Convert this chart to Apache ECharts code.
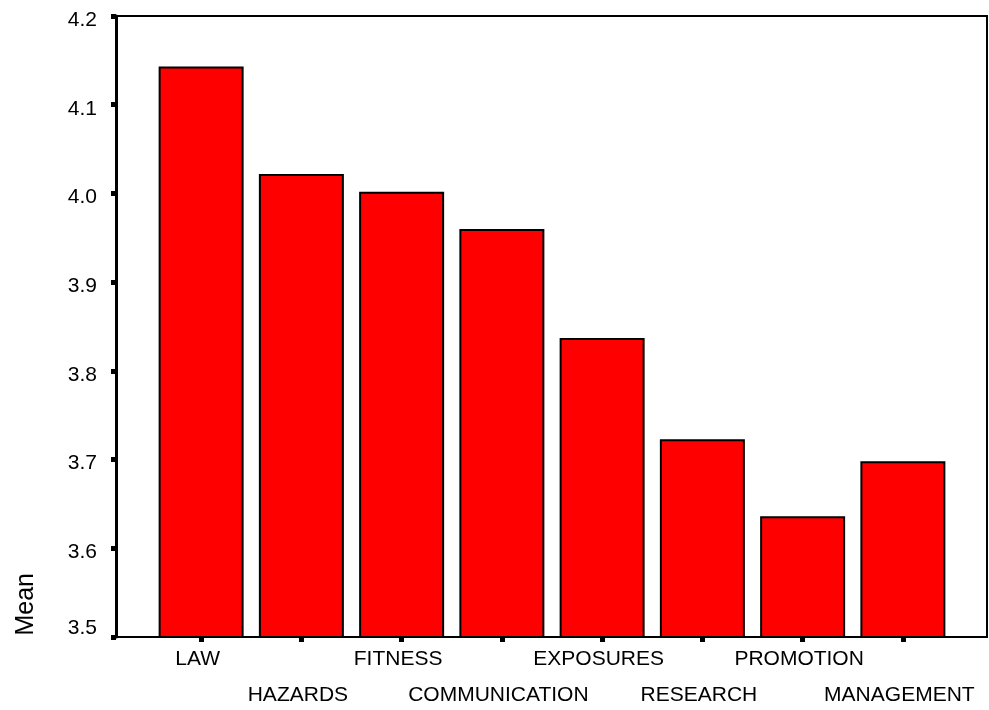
<!DOCTYPE html>
<html>
<head>
<meta charset="utf-8">
<script src="https://cdn.jsdelivr.net/npm/echarts@6/dist/echarts.min.js"></script>
<style>html,body{margin:0;padding:0;background:#fff}#c{width:989px;height:710px}</style>
</head>
<body>
<div id="c"></div>
<script>
const categories = ['LAW','HAZARDS','FITNESS','COMMUNICATION','EXPOSURES','RESEARCH','PROMOTION','MANAGEMENT'];
const means = [4.143, 4.022, 4.002, 3.960, 3.837, 3.723, 3.636, 3.698];
const yMin = 3.5, yMax = 4.2, yStep = 0.1;
const yTitle = 'Mean';

const FONT = '"Liberation Sans", Arial, sans-serif';
const chart = echarts.init(document.getElementById('c'), null, {renderer:'canvas'});
chart.setOption({
  animation: false,
  backgroundColor: '#fff',
  grid: [
    {left: 151, right: 36, top: 16, bottom: 73, outerBoundsMode: 'none', containLabel: false},
    {left: 116, right: 2, top: 16, bottom: 73, outerBoundsMode: 'none', containLabel: false,
     show: true, borderColor: '#000', borderWidth: 2, backgroundColor: 'transparent', z: 0}
  ],
  xAxis: [
    {
      type: 'category', gridIndex: 0, data: categories,
      axisLine: {show: false},
      axisTick: {show: true, alignWithLabel: true, length: 5, lineStyle: {color: '#000', width: 5}},
      axisLabel: {
        color: '#000', fontFamily: FONT, fontSize: 21, interval: 0, margin: 4,
        lineHeight: 36, verticalAlign: 'top', padding: [0, 7, 0, 0],
        formatter: function (v, i) { return i % 2 ? '\n' + v : v; }
      }
    },
    {type: 'value', gridIndex: 1, show: false, min: 0, max: 1}
  ],
  yAxis: [
    {
      type: 'value', gridIndex: 0, min: yMin, max: yMax, interval: yStep, offset: 35,
      axisLine: {show: true, lineStyle: {color: '#000', width: 3}},
      axisTick: {show: true, length: 5, lineStyle: {color: '#000', width: 5}},
      splitLine: {show: false},
      axisLabel: {color: '#000', fontFamily: FONT, fontSize: 21, margin: 19,
        formatter: function (v) {
          return v <= yMin + 1e-9 ? '{low|' + v.toFixed(1) + '}' : '{n|' + v.toFixed(1) + '}';
        },
        rich: {
          n: {fontFamily: FONT, fontSize: 21, color: '#000', padding: [8, 0, 0, 0]},
          low: {fontFamily: FONT, fontSize: 21, color: '#000', padding: [0, 0, 18, 0]}
        }
      }
    },
    {type: 'value', gridIndex: 1, show: false, min: 0, max: 1}
  ],
  graphic: [{
    type: 'text', left: 14, top: 573, rotation: Math.PI / 2,
    style: {text: yTitle, fill: '#000', font: '25px ' + FONT}
  }],
  series: [{
    type: 'bar', xAxisIndex: 0, yAxisIndex: 0, data: means, barWidth: 85,
    itemStyle: {color: '#ff0000', borderColor: '#000', borderWidth: 2}
  }]
});
</script>
</body>
</html>
